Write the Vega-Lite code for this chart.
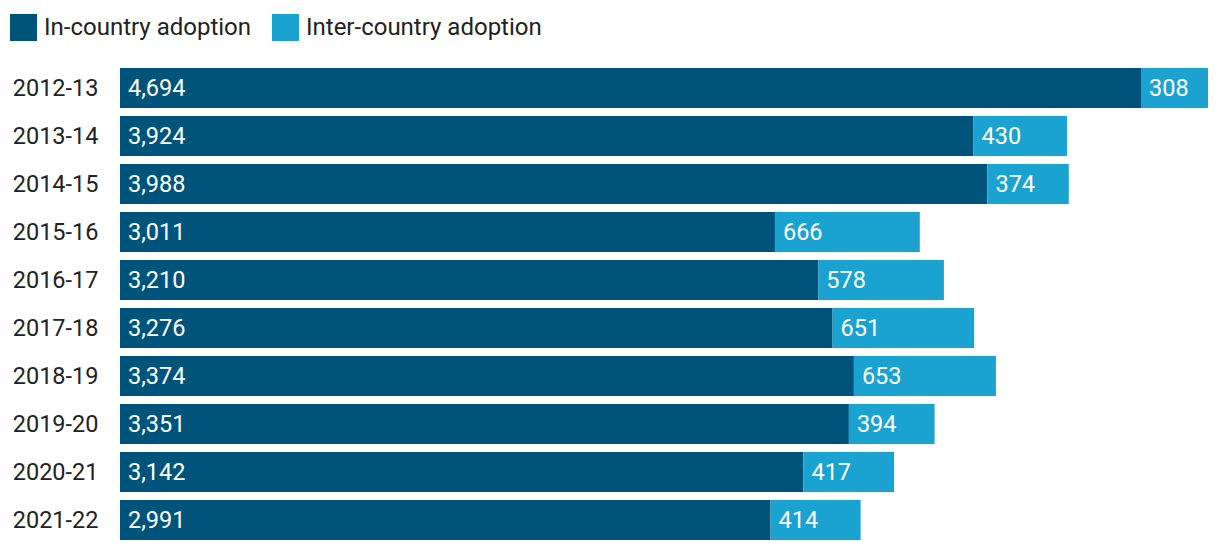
{
  "$schema": "https://vega.github.io/schema/vega-lite/v6.json",
  "width": 1088,
  "height": 480,
  "autosize": {"type": "none"},
  "padding": {"left": 120, "top": 64, "right": 12, "bottom": 8},
  "background": "white",
  "config": {
    "view": {"stroke": null},
    "font": "Roboto"
  },
  "data": {
    "values": [
      {"year": "2012-13", "type": "In-country adoption", "order": 1, "value": 4694},
      {"year": "2012-13", "type": "Inter-country adoption", "order": 2, "value": 308},
      {"year": "2013-14", "type": "In-country adoption", "order": 1, "value": 3924},
      {"year": "2013-14", "type": "Inter-country adoption", "order": 2, "value": 430},
      {"year": "2014-15", "type": "In-country adoption", "order": 1, "value": 3988},
      {"year": "2014-15", "type": "Inter-country adoption", "order": 2, "value": 374},
      {"year": "2015-16", "type": "In-country adoption", "order": 1, "value": 3011},
      {"year": "2015-16", "type": "Inter-country adoption", "order": 2, "value": 666},
      {"year": "2016-17", "type": "In-country adoption", "order": 1, "value": 3210},
      {"year": "2016-17", "type": "Inter-country adoption", "order": 2, "value": 578},
      {"year": "2017-18", "type": "In-country adoption", "order": 1, "value": 3276},
      {"year": "2017-18", "type": "Inter-country adoption", "order": 2, "value": 651},
      {"year": "2018-19", "type": "In-country adoption", "order": 1, "value": 3374},
      {"year": "2018-19", "type": "Inter-country adoption", "order": 2, "value": 653},
      {"year": "2019-20", "type": "In-country adoption", "order": 1, "value": 3351},
      {"year": "2019-20", "type": "Inter-country adoption", "order": 2, "value": 394},
      {"year": "2020-21", "type": "In-country adoption", "order": 1, "value": 3142},
      {"year": "2020-21", "type": "Inter-country adoption", "order": 2, "value": 417},
      {"year": "2021-22", "type": "In-country adoption", "order": 1, "value": 2991},
      {"year": "2021-22", "type": "Inter-country adoption", "order": 2, "value": 414}
    ]
  },
  "transform": [
    {"stack": "value", "groupby": ["year"], "sort": [{"field": "order", "order": "ascending"}], "as": ["x0", "x1"]}
  ],
  "encoding": {
    "y": {
      "field": "year",
      "type": "nominal",
      "sort": null,
      "title": null,
      "scale": {"paddingInner": 0.1667, "paddingOuter": 0.0833},
      "axis": {
        "ticks": false,
        "domain": false,
        "labelFontSize": 23.5,
        "labelColor": "#222222",
        "labelPadding": 22,
        "labelFont": "Roboto",
        "labelBaseline": "middle",
        "labelOffset": 1
      }
    }
  },
  "layer": [
    {
      "mark": {"type": "bar"},
      "encoding": {
        "x": {
          "field": "x0",
          "type": "quantitative",
          "scale": {"domain": [0, 5002], "nice": false, "zero": true},
          "axis": null
        },
        "x2": {"field": "x1"},
        "color": {
          "field": "type",
          "type": "nominal",
          "sort": ["In-country adoption", "Inter-country adoption"],
          "scale": {"domain": ["In-country adoption", "Inter-country adoption"], "range": ["#00547c", "#1aa3d0"]},
          "legend": {
            "title": null,
            "orient": "none",
            "legendX": -110,
            "legendY": -50,
            "direction": "horizontal",
            "symbolType": "square",
            "symbolSize": 729,
            "symbolStrokeWidth": 0,
            "symbolOpacity": 1,
            "labelFontSize": 24,
            "labelLimit": 0,
            "labelColor": "#222222",
            "labelFont": "Roboto",
            "labelOffset": 7,
            "columnPadding": 20,
            "padding": 0
          }
        }
      }
    },
    {
      "mark": {"type": "text", "align": "left", "baseline": "middle", "dx": 8, "dy": 1, "fontSize": 23.5, "color": "white", "font": "Roboto"},
      "encoding": {
        "x": {"field": "x0", "type": "quantitative"},
        "text": {"field": "value", "type": "quantitative", "format": ","}
      }
    }
  ]
}
